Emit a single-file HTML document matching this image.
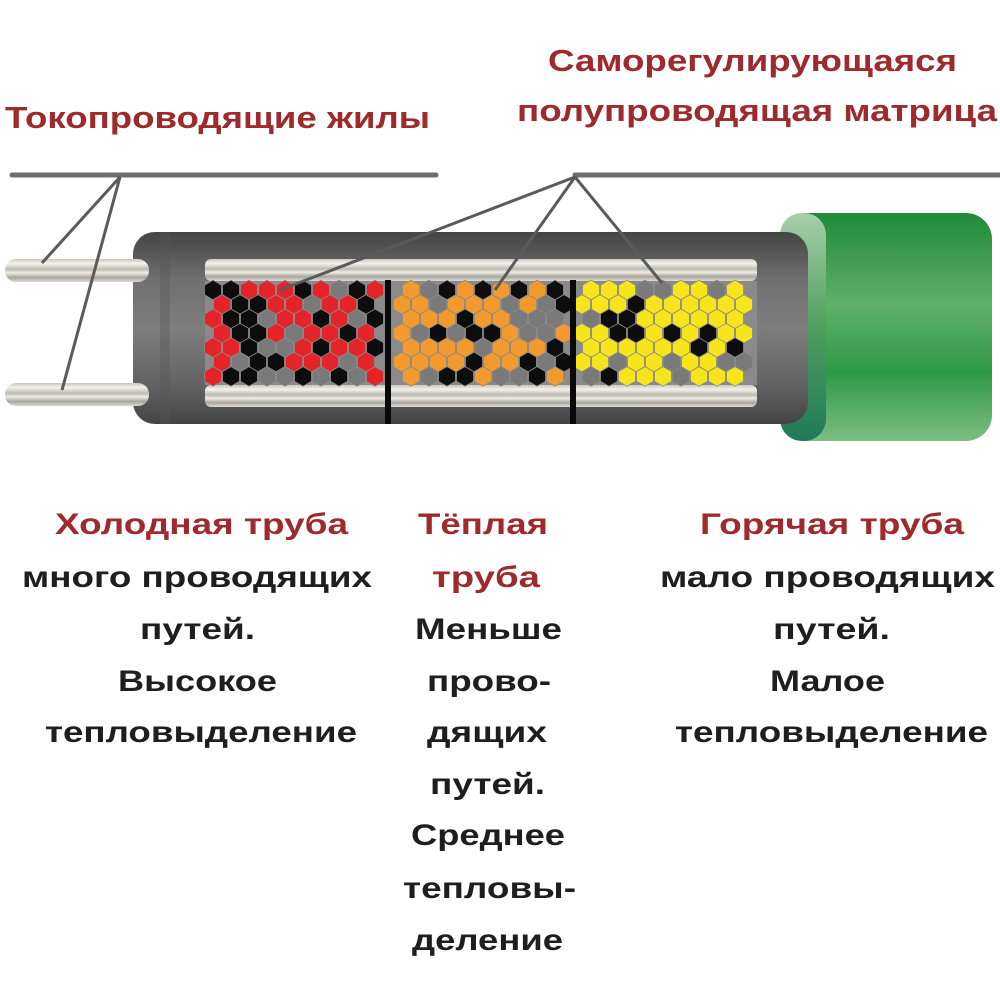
<!DOCTYPE html>
<html><head><meta charset="utf-8"><style>
html,body{margin:0;padding:0;background:#fff;}
svg{display:block}
text{font-family:"Liberation Sans",sans-serif;font-weight:bold;}
.r{fill:#9e2a2b}
.k{fill:#1e1e1e}
</style></head><body>
<svg id="s" width="1000" height="1000" viewBox="0 0 1000 1000" xmlns="http://www.w3.org/2000/svg">
<defs>
<linearGradient id="body" x1="0" y1="0" x2="0" y2="1">
<stop offset="0" stop-color="#444"/><stop offset="0.25" stop-color="#707070"/><stop offset="0.5" stop-color="#7e7e7e"/><stop offset="0.8" stop-color="#626262"/><stop offset="1" stop-color="#444"/>
</linearGradient>
<linearGradient id="green" x1="0" y1="0" x2="0" y2="1">
<stop offset="0" stop-color="#1f8a3a"/><stop offset="0.4" stop-color="#5fb06a"/><stop offset="0.7" stop-color="#2e9a45"/><stop offset="1" stop-color="#7dbd82"/>
</linearGradient>
<linearGradient id="greenEdge" x1="0" y1="0" x2="0" y2="1">
<stop offset="0" stop-color="#a8cfa8"/><stop offset="0.5" stop-color="#4f9f5d"/><stop offset="1" stop-color="#1f7a5a"/>
</linearGradient>
<linearGradient id="wire" x1="0" y1="0" x2="0" y2="1">
<stop offset="0" stop-color="#c9c6bf"/><stop offset="0.2" stop-color="#f4f2ec"/><stop offset="0.45" stop-color="#bdbab3"/><stop offset="0.6" stop-color="#eeece6"/><stop offset="0.8" stop-color="#a9a69f"/><stop offset="1" stop-color="#dcdad4"/>
</linearGradient>
</defs>
<rect width="1000" height="1000" fill="#fff"/>
<text class="r" x="5" y="128" font-size="31" textLength="425" lengthAdjust="spacingAndGlyphs">Токопроводящие жилы</text>
<text class="r" x="548" y="71" font-size="31" textLength="409" lengthAdjust="spacingAndGlyphs">Саморегулирующаяся</text>
<text class="r" x="517" y="121" font-size="31" textLength="480" lengthAdjust="spacingAndGlyphs">полупроводящая матрица</text>
<rect x="780" y="213" width="212" height="228" rx="26" fill="url(#green)"/>
<rect x="780" y="213" width="46" height="228" rx="22" fill="url(#greenEdge)"/>
<rect x="133" y="232" width="675" height="192" rx="22" fill="url(#body)"/>
<rect x="160" y="232" width="10" height="192" fill="#555" opacity="0.35"/>
<rect x="5" y="259" width="144" height="23" rx="11" fill="url(#wire)"/>
<rect x="5" y="383" width="144" height="23" rx="11" fill="url(#wire)"/>
<rect x="205" y="259" width="552" height="22" rx="6" fill="url(#wire)"/>
<rect x="205" y="385" width="552" height="22" rx="6" fill="url(#wire)"/>
<rect x="205" y="281" width="552" height="104" fill="#8a8a8a"/>
<g id="hex"></g>
<rect x="385" y="280" width="6" height="144" fill="#0a0a0a"/>
<rect x="570" y="280" width="6" height="144" fill="#0a0a0a"/>
<g stroke="#6e6e6e" stroke-width="5" fill="none" stroke-linecap="round">
<line x1="12" y1="175" x2="436" y2="175"/>
<line x1="575" y1="175" x2="1000" y2="175"/>
</g>
<g stroke="#5a5a5a" stroke-width="3" fill="none">
<line x1="120" y1="177" x2="42" y2="263"/>
<line x1="120" y1="177" x2="62" y2="390"/>
<line x1="575" y1="177" x2="280" y2="290"/>
<line x1="575" y1="177" x2="495" y2="290"/>
<line x1="575" y1="177" x2="662" y2="283"/>
</g>
<g font-size="30">
<text class="r" x="55" y="534" textLength="293" lengthAdjust="spacingAndGlyphs">Холодная труба</text>
<text class="k" x="22" y="587" textLength="350" lengthAdjust="spacingAndGlyphs">много проводящих</text>
<text class="k" x="140" y="639" textLength="115" lengthAdjust="spacingAndGlyphs">путей.</text>
<text class="k" x="118" y="691" textLength="159" lengthAdjust="spacingAndGlyphs">Высокое</text>
<text class="k" x="45" y="742" textLength="312" lengthAdjust="spacingAndGlyphs">тепловыделение</text>

<text class="r" x="418" y="534" textLength="130" lengthAdjust="spacingAndGlyphs">Тёплая</text>
<text class="r" x="432" y="587" textLength="108" lengthAdjust="spacingAndGlyphs">труба</text>
<text class="k" x="415" y="639" textLength="147" lengthAdjust="spacingAndGlyphs">Меньше</text>
<text class="k" x="427" y="691" textLength="124" lengthAdjust="spacingAndGlyphs">прово-</text>
<text class="k" x="427" y="742" textLength="120" lengthAdjust="spacingAndGlyphs">дящих</text>
<text class="k" x="430" y="794" textLength="115" lengthAdjust="spacingAndGlyphs">путей.</text>
<text class="k" x="411" y="845" textLength="154" lengthAdjust="spacingAndGlyphs">Среднее</text>
<text class="k" x="403" y="898" textLength="173" lengthAdjust="spacingAndGlyphs">тепловы-</text>
<text class="k" x="412" y="950" textLength="151" lengthAdjust="spacingAndGlyphs">деление</text>

<text class="r" x="700" y="534" textLength="264" lengthAdjust="spacingAndGlyphs">Горячая труба</text>
<text class="k" x="660" y="587" textLength="335" lengthAdjust="spacingAndGlyphs">мало проводящих</text>
<text class="k" x="773" y="639" textLength="117" lengthAdjust="spacingAndGlyphs">путей.</text>
<text class="k" x="770" y="691" textLength="115" lengthAdjust="spacingAndGlyphs">Малое</text>
<text class="k" x="675" y="742" textLength="313" lengthAdjust="spacingAndGlyphs">тепловыделение</text>
</g>
</svg>
<script>
(function(){
var g=document.getElementById('hex');
var seed=7;function rnd(){seed=(seed*9301+49297)%233280;return seed/233280;}
var r=9.8,s='';
for(var row=0;row<7;row++){
 var cy=290+row*14.4;var off=(row%2)?9:0;
 for(var cx=213+off;cx<=752;cx+=18){
  if(Math.abs(cx-388)<6||Math.abs(cx-573)<6)continue;
  var t=rnd(),c;
  if(cx<388){c=t<0.45?'#e5242a':(t<0.78?'#0d0d0d':'#7a7a7a');}
  else if(cx<573){c=t<0.45?'#f29a2e':(t<0.75?'#0d0d0d':'#7a7a7a');}
  else{c=t<0.68?'#f7e51c':(t<0.88?'#0d0d0d':'#7a7a7a');}
  var p=[];for(var i=0;i<6;i++){var a=Math.PI/180*(60*i-90);p.push((cx+r*Math.cos(a)).toFixed(1)+','+(cy+r*Math.sin(a)).toFixed(1));}
  s+='<polygon points="'+p.join(' ')+'" fill="'+c+'" stroke="#8a8a8a" stroke-width="0.8"/>';
 }
}
g.innerHTML=s;
})();
</script>
</body></html>
